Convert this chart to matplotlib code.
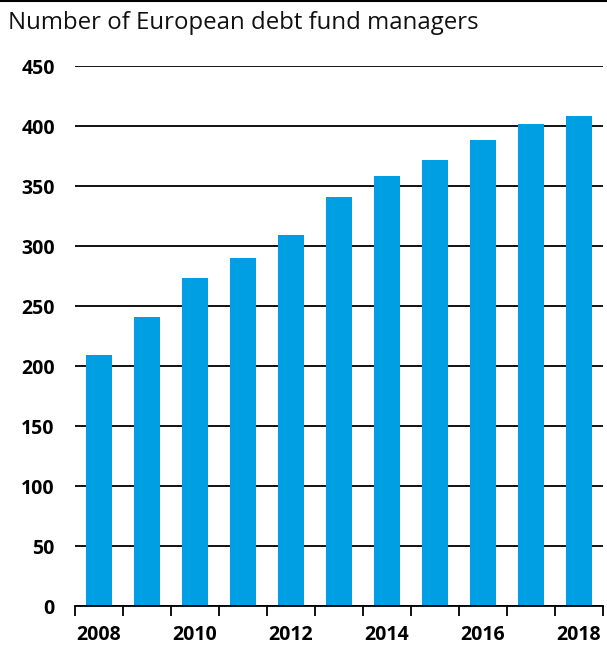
import matplotlib.pyplot as plt
import matplotlib.lines as mlines
import numpy as np

plt.rcParams['font.family'] = ['Open Sans', 'DejaVu Sans']

years = [2008, 2009, 2010, 2011, 2012, 2013, 2014, 2015, 2016, 2017, 2018]
managers = [209, 241, 273, 290, 309, 341, 358, 372, 388, 402, 408]
y_ticks = [0, 50, 100, 150, 200, 250, 300, 350, 400, 450]

fig = plt.figure(figsize=(6.07, 6.48), dpi=100)
ax = fig.add_axes([75 / 607, 42 / 648, 528 / 607, 540 / 648])

x = np.arange(len(years))
ax.bar(x, managers, width=0.55, color='#009FE3', zorder=2)

ax.set_xlim(-0.5, len(years) - 0.5)
ax.set_ylim(0, 450)
ax.set_yticks(y_ticks)
ax.set_yticklabels([str(v) for v in y_ticks], fontsize=14, fontweight='bold')
ax.tick_params(axis='y', length=0, pad=14.5)
ax.yaxis.grid(True, color='black', linewidth=1.3, zorder=0)
ax.set_axisbelow(True)

# year labels every other bar, tick marks between categories
ax.set_xticks(x[::2])
ax.set_xticklabels([str(y) for y in years[::2]], fontsize=14, fontweight='bold')
ax.tick_params(axis='x', which='major', length=0, pad=14)
ax.set_xticks(np.arange(-0.5, len(years), 1.0), minor=True)
ax.tick_params(axis='x', which='minor', length=7, width=1.3, color='black')

for side in ['top', 'right', 'left']:
    ax.spines[side].set_visible(False)
ax.spines['bottom'].set_linewidth(1.3)
ax.spines['bottom'].set_color('black')

fig.text(8 / 607, 1 - 23 / 648, 'Number of European debt fund managers',
         fontsize=17.3, va='center', ha='left', color='#111111')
fig.add_artist(mlines.Line2D([0, 1], [1 - 0.5 / 648, 1 - 0.5 / 648],
                             transform=fig.transFigure, color='black', linewidth=1.5))

fig.savefig('out.png', dpi=100)
